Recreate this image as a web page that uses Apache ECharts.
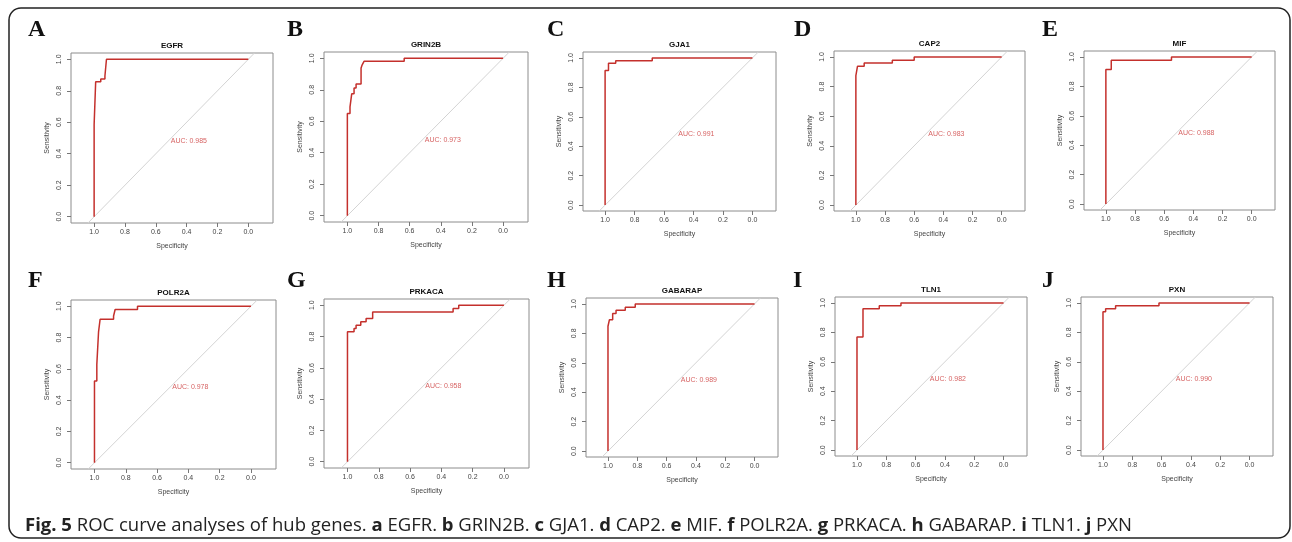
<!DOCTYPE html>
<html>
<head>
<meta charset="utf-8">
<script src="https://cdn.jsdelivr.net/npm/echarts@6/dist/echarts.min.js"></script>
<style>
  html, body { margin: 0; padding: 0; background: #fff; }
  #main { width: 1292px; height: 542px; }
</style>
</head>
<body>
<div id="main"></div>
<script>
// genes / panels
const genes = ['EGFR', 'GRIN2B', 'GJA1', 'CAP2', 'MIF', 'POLR2A', 'PRKACA', 'GABARAP', 'TLN1', 'PXN'];
const letters = ['A', 'B', 'C', 'D', 'E', 'F', 'G', 'H', 'I', 'J'];
const aucs = ['0.985', '0.973', '0.991', '0.983', '0.988', '0.978', '0.958', '0.989', '0.982', '0.990'];
const tickValues = [0, 0.2, 0.4, 0.6, 0.8, 1.0];

// ROC curves (specificity, sensitivity)
const egfrSpec = [1, 1, 0.99, 0.99, 0.957, 0.957, 0.93, 0.93, 0.92, 0.92, 0];
const egfrSens = [0, 0.585, 0.585, 0.857, 0.857, 0.875, 0.875, 0.894, 0.894, 1, 1];
const grin2bSpec = [1, 1, 0.983, 0.983, 0.972, 0.972, 0.957, 0.957, 0.944, 0.944, 0.912, 0.912, 0.904, 0.904, 0.893, 0.893, 0.635, 0.635, 0];
const grin2bSens = [0, 0.65, 0.65, 0.692, 0.692, 0.774, 0.774, 0.812, 0.812, 0.837, 0.837, 0.939, 0.939, 0.96, 0.96, 0.981, 0.981, 1, 1];
const gja1Spec = [1, 1, 0.977, 0.977, 0.928, 0.928, 0.68, 0.68, 0];
const gja1Sens = [0, 0.914, 0.914, 0.964, 0.964, 0.98, 0.98, 1, 1];
const cap2Spec = [1, 1, 0.989, 0.989, 0.943, 0.943, 0.75, 0.75, 0.6, 0.6, 0];
const cap2Sens = [0, 0.873, 0.873, 0.937, 0.937, 0.959, 0.959, 0.977, 0.977, 1, 1];
const mifSpec = [1, 1, 0.963, 0.963, 0.55, 0.55, 0];
const mifSens = [0, 0.914, 0.914, 0.977, 0.977, 1, 1];
const polr2aSpec = [1, 1, 0.985, 0.985, 0.974, 0.974, 0.964, 0.964, 0.878, 0.878, 0.868, 0.868, 0.725, 0.725, 0];
const polr2aSens = [0, 0.522, 0.522, 0.627, 0.627, 0.836, 0.836, 0.917, 0.917, 0.938, 0.938, 0.979, 0.979, 1, 1];
const prkacaSpec = [1, 1, 0.958, 0.958, 0.945, 0.945, 0.915, 0.915, 0.881, 0.881, 0.839, 0.839, 0.325, 0.325, 0.289, 0.289, 0];
const prkacaSens = [0, 0.83, 0.83, 0.851, 0.851, 0.872, 0.872, 0.894, 0.894, 0.915, 0.915, 0.957, 0.957, 0.979, 0.979, 1, 1];
const gabarapSpec = [1, 1, 0.99, 0.99, 0.968, 0.968, 0.945, 0.945, 0.882, 0.882, 0.814, 0.814, 0];
const gabarapSens = [0, 0.848, 0.848, 0.893, 0.893, 0.934, 0.934, 0.957, 0.957, 0.977, 0.977, 1, 1];
const tln1Spec = [1, 1, 0.959, 0.959, 0.848, 0.848, 0.7, 0.7, 0];
const tln1Sens = [0, 0.769, 0.769, 0.961, 0.961, 0.98, 0.98, 1, 1];
const pxnSpec = [1, 1, 0.982, 0.982, 0.914, 0.914, 0.618, 0.618, 0];
const pxnSens = [0, 0.939, 0.939, 0.961, 0.961, 0.98, 0.98, 1, 1];

const curves = [
  [egfrSpec, egfrSens], [grin2bSpec, grin2bSens], [gja1Spec, gja1Sens], [cap2Spec, cap2Sens], [mifSpec, mifSens],
  [polr2aSpec, polr2aSens], [prkacaSpec, prkacaSens], [gabarapSpec, gabarapSens], [tln1Spec, tln1Sens], [pxnSpec, pxnSens]
];

// chance line end points (spans the plot box, like abline in R)
const chanceSpec = [1.04, -0.04];
const chanceSens = [-0.04, 1.04];

// plot boxes: left, right, top, bottom (px)
const boxes = [
  [71, 273, 53, 223], [324, 528, 52, 222], [583, 776, 52, 211], [834, 1025, 51, 211], [1084, 1275, 51, 210],
  [71, 276, 300, 469], [324, 529, 299, 468], [586, 778, 298, 457], [835, 1027, 297, 456], [1081, 1273, 297, 456]
];
// panel letter anchors (left, baseline)
const letterPos = [[28, 42], [287, 42], [547, 42], [794, 42], [1042, 42], [28, 293], [287, 293], [547, 293], [793, 293], [1042, 293]];

const chart = echarts.init(document.getElementById('main'));
const grid = [], xAxis = [], yAxis = [], series = [], graphic = [];
const labelColor = '#444';

genes.forEach((g, i) => {
  const b = boxes[i];
  grid.push({
    left: b[0], top: b[2], width: b[1] - b[0], height: b[3] - b[2],
    show: true, borderColor: '#8c8c8c', borderWidth: 1, backgroundColor: 'transparent'
  });
  xAxis.push({
    gridIndex: i, type: 'value', inverse: true, min: -0.16, max: 1.15, position: 'bottom',
    name: 'Specificity', nameLocation: 'middle', nameGap: 20,
    nameTextStyle: { fontSize: 7, color: labelColor, fontFamily: 'Liberation Sans' },
    axisLine: { show: false, onZero: false }, splitLine: { show: false },
    axisTick: { show: true, length: 4, customValues: tickValues, lineStyle: { color: '#777' } },
    axisLabel: { show: true, customValues: tickValues, margin: 6, fontSize: 7, color: labelColor,
      fontFamily: 'Liberation Sans', formatter: v => v.toFixed(1) }
  });
  yAxis.push({
    gridIndex: i, type: 'value', min: -0.04, max: 1.04, position: 'left',
    name: 'Sensitivity', nameLocation: 'middle', nameGap: 20, nameRotate: 90,
    nameTextStyle: { fontSize: 7, color: labelColor, fontFamily: 'Liberation Sans' },
    axisLine: { show: false, onZero: false }, splitLine: { show: false },
    axisTick: { show: true, length: 4, customValues: tickValues, lineStyle: { color: '#777' } },
    axisLabel: { show: true, customValues: tickValues, rotate: 90, margin: 8, fontSize: 7, color: labelColor,
      fontFamily: 'Liberation Sans', formatter: v => v.toFixed(1) }
  });
  series.push({
    type: 'line', xAxisIndex: i, yAxisIndex: i, symbol: 'none', silent: true,
    lineStyle: { color: '#d3d3d3', width: 1 },
    data: chanceSpec.map((s, k) => [s, chanceSens[k]])
  });
  series.push({
    type: 'line', xAxisIndex: i, yAxisIndex: i, symbol: 'none',
    lineStyle: { color: '#c4302c', width: 1.5 },
    data: curves[i][0].map((s, k) => [s, curves[i][1][k]])
  });
  series.push({
    type: 'scatter', xAxisIndex: i, yAxisIndex: i, symbolSize: 1, silent: true,
    itemStyle: { color: 'rgba(0,0,0,0)' },
    label: { show: true, position: [0, 0], align: 'left', verticalAlign: 'top',
      formatter: 'AUC: ' + aucs[i], fontSize: 7, color: '#cc3a3a', fontFamily: 'Liberation Sans' },
    data: [[0.5, 0.5]]
  });
  graphic.push({
    type: 'text', x: (b[0] + b[1]) / 2, y: b[2] - 7,
    style: { text: g, fill: '#111', font: 'bold 8px "Liberation Sans"', textAlign: 'center', textVerticalAlign: 'middle' }
  });
  graphic.push({
    type: 'text', x: letterPos[i][0], y: letterPos[i][1],
    style: { text: letters[i], fill: '#111', font: 'bold 24px "Liberation Serif"', textAlign: 'left', textVerticalAlign: 'bottom' }
  });
});

// outer rounded frame
graphic.push({
  type: 'rect', shape: { x: 9, y: 8, width: 1281, height: 530, r: 12 },
  style: { fill: 'none', stroke: '#222', lineWidth: 1.5 }
});

// caption
const caption = '{b|Fig. 5} ROC curve analyses of hub genes. ' +
  genes.map((g, i) => '{b|' + letters[i].toLowerCase() + '} ' + g).join('. ');
graphic.push({
  type: 'text', x: 25, y: 526,
  style: {
    text: caption, fill: '#222', fontSize: 18.5, fontFamily: 'Open Sans', textVerticalAlign: 'middle',
    rich: { b: { fontWeight: 'bold', fontSize: 18.5, fontFamily: 'Open Sans', fill: '#222' } }
  }
});

chart.setOption({
  animation: false,
  grid, xAxis, yAxis, series, graphic
});
</script>
</body>
</html>
